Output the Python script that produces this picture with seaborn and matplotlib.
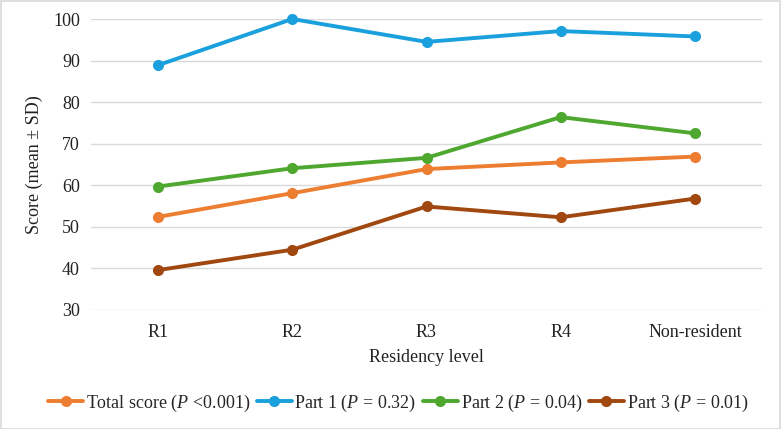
import matplotlib
matplotlib.use("Agg")
import matplotlib.pyplot as plt
import seaborn as sns
import pandas as pd

levels = ["R1", "R2", "R3", "R4", "Non-resident"]
total_score = [52.4, 58.1, 63.9, 65.5, 66.9]
part1 = [88.9, 100.0, 94.5, 97.1, 95.8]
part2 = [59.7, 64.1, 66.6, 76.4, 72.5]
part3 = [39.6, 44.5, 54.9, 52.3, 56.8]
series_names = [
    r"Total score ($\mathit{P}$ <0.001)",
    r"Part 1 ($\mathit{P}$ = 0.32)",
    r"Part 2 ($\mathit{P}$ = 0.04)",
    r"Part 3 ($\mathit{P}$ = 0.01)",
]
colors = ["#ED7D31", "#1AA0DC", "#4EA72E", "#A0480F"]

sns.set_theme(style="white")
plt.rcParams["font.family"] = ["Liberation Serif", "DejaVu Serif"]
plt.rcParams["mathtext.fontset"] = "custom"
plt.rcParams["mathtext.rm"] = "Liberation Serif"
plt.rcParams["mathtext.it"] = "Liberation Serif:italic"

rows = []
for name, vals in zip(series_names, [total_score, part1, part2, part3]):
    for i, (lvl, v) in enumerate(zip(levels, vals)):
        rows.append({"level": lvl, "x": i, "score": v, "series": name})
df = pd.DataFrame(rows)

fs = 13
fig = plt.figure(figsize=(7.81, 4.29), dpi=100)
ax = fig.add_axes([0.1165, 0.2774, 0.8592, 0.6783])

sns.lineplot(data=df, x="x", y="score", hue="series", hue_order=series_names,
             palette=colors, marker="o", markersize=8, markeredgewidth=0,
             linewidth=2.8, ax=ax, legend=True)
for ln in ax.get_lines():
    ln.set_clip_on(False)

ax.set_xlim(-0.5, 4.5)
ax.set_ylim(30, 100)
ax.set_yticks(range(30, 101, 10))
ax.set_xticks(range(len(levels)))
ax.set_xticklabels(levels)
ax.tick_params(axis="x", labelsize=fs, length=0, colors="#222222", pad=10)
ax.tick_params(axis="y", labelsize=fs, length=0, colors="#222222", pad=8)
ax.grid(axis="y", color="#D9D9D9", linewidth=1)
ax.set_axisbelow(True)
for s in ax.spines.values():
    s.set_visible(False)
ax.set_xlabel("Residency level", fontsize=fs, color="#222222", labelpad=6)
ax.set_ylabel("Score (mean ± SD)", fontsize=fs, color="#222222", labelpad=7)

handles, labels = ax.get_legend_handles_labels()
ax.get_legend().remove()
fig.legend(handles, labels, loc="center", bbox_to_anchor=(0.51, 0.06), ncol=4,
           frameon=False, fontsize=fs, handlelength=1.95, handletextpad=0.15,
           columnspacing=0.35)

border = plt.Rectangle((0.001, 0.001), 0.998, 0.997, transform=fig.transFigure,
                       fill=False, edgecolor="#D9D9D9", linewidth=1.2)
fig.patches.append(border)

fig.savefig("out.png", dpi=100)
